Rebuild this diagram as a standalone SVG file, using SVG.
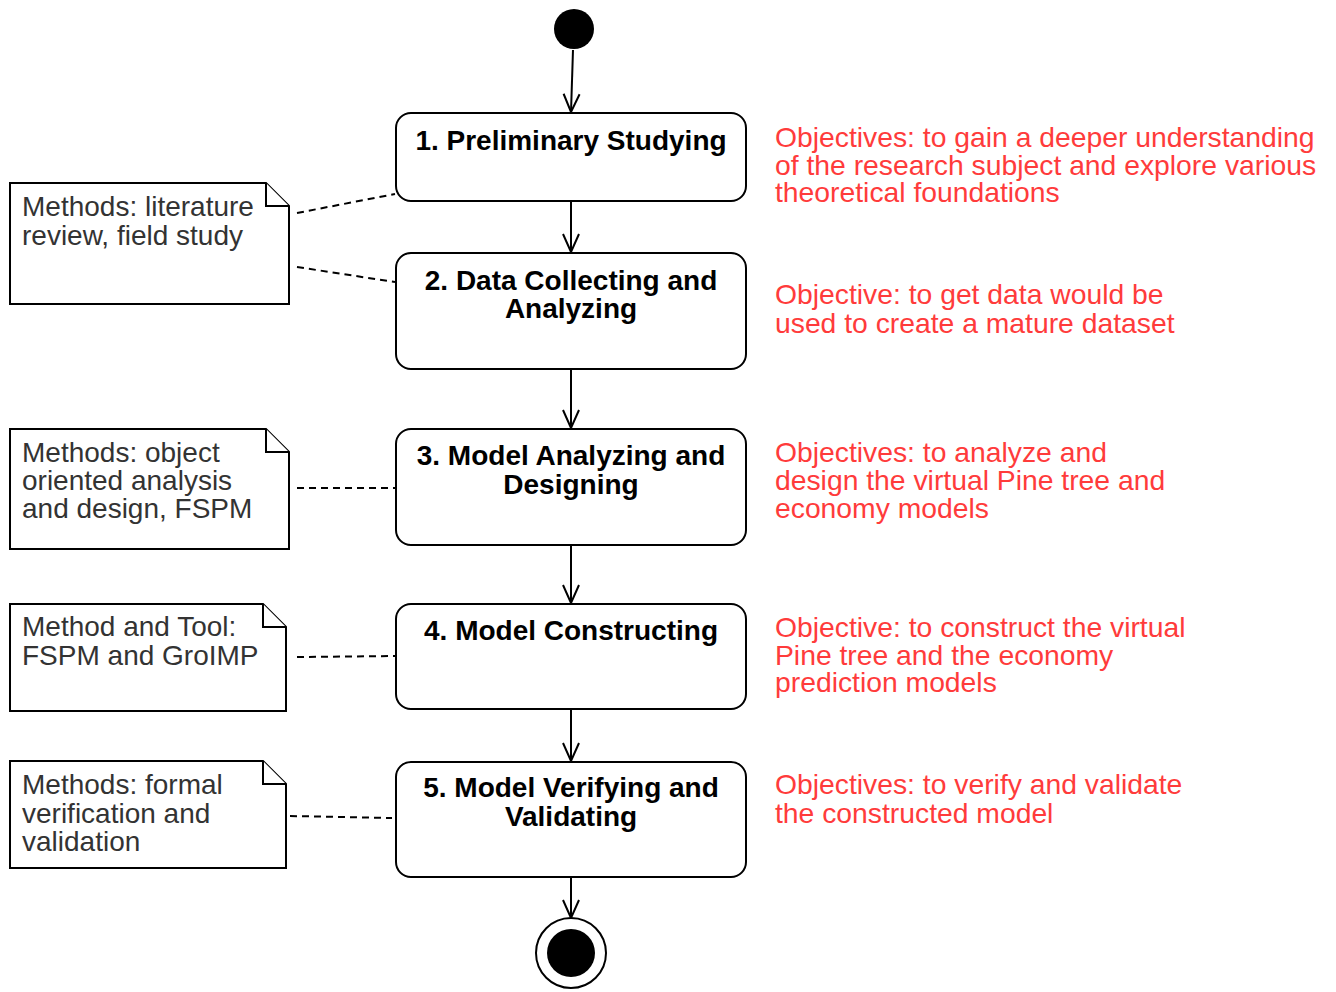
<svg xmlns="http://www.w3.org/2000/svg" width="1336" height="992" viewBox="0 0 1336 992">
  <defs>
    <!-- open V arrowhead, tip at the end of the line -->
    <marker id="open" viewBox="0 0 22 22" refX="20" refY="11" markerWidth="22" markerHeight="22" markerUnits="userSpaceOnUse" orient="auto">
      <path d="M2,3 L20,11 L2,19" fill="none" stroke="#000" stroke-width="2"/>
    </marker>
  </defs>
  <style>
    .act { fill: #fff; stroke: #000; stroke-width: 2; }
    .note { fill: #fff; stroke: #000; stroke-width: 2; }
    .title { font-family: "Liberation Sans", Arial, sans-serif; font-size: 28px; font-weight: bold; fill: #000; text-anchor: middle; }
    .ntext { font-family: "Liberation Sans", Arial, sans-serif; font-size: 28px; fill: #333; }
    .obj { font-family: "Liberation Sans", Arial, sans-serif; font-size: 28.3px; fill: #ff3b3b; }
    .flow { stroke: #000; stroke-width: 2; fill: none; marker-end: url(#open); }
    .link { stroke: #000; stroke-width: 2; fill: none; stroke-dasharray: 7 5; }
  </style>
  <rect width="1336" height="992" fill="#fff"/>

  <!-- control flow and note links -->
  <g id="connectors">
    <path class="flow" d="M573,50 L571,112"/>
    <path class="flow" d="M571,202 L571,252"/>
    <path class="flow" d="M571,370 L571,428"/>
    <path class="flow" d="M571,546 L571,603"/>
    <path class="flow" d="M571,710 L571,761"/>
    <path class="flow" d="M571,878 L571,918"/>
    <path class="link" d="M297,213 L395,194"/>
    <path class="link" d="M297,267 L395,282"/>
    <path class="link" d="M297,488 L395,488"/>
    <path class="link" d="M297,657 L395,656"/>
    <path class="link" d="M290,816 L392,818"/>
  </g>

  <g id="start">
    <circle cx="574" cy="29" r="20" fill="#000"/>
  </g>

  <g id="step1">
    <rect class="act" x="396" y="113" width="350" height="88" rx="15"/>
    <text class="title" x="571" y="150">1. Preliminary Studying</text>
  </g>
  <g id="step2">
    <rect class="act" x="396" y="253" width="350" height="116" rx="15"/>
    <text class="title" x="571" y="290">2. Data Collecting and</text>
    <text class="title" x="571" y="318">Analyzing</text>
  </g>
  <g id="step3">
    <rect class="act" x="396" y="429" width="350" height="116" rx="15"/>
    <text class="title" x="571" y="465">3. Model Analyzing and</text>
    <text class="title" x="571" y="494">Designing</text>
  </g>
  <g id="step4">
    <rect class="act" x="396" y="604" width="350" height="105" rx="15"/>
    <text class="title" x="571" y="640">4. Model Constructing</text>
  </g>
  <g id="step5">
    <rect class="act" x="396" y="762" width="350" height="115" rx="15"/>
    <text class="title" x="571" y="797">5. Model Verifying and</text>
    <text class="title" x="571" y="826">Validating</text>
  </g>

  <g id="end">
    <circle cx="571" cy="953" r="35" fill="#fff" stroke="#000" stroke-width="2"/>
    <circle cx="571" cy="953" r="24" fill="#000"/>
  </g>

  <g id="note1">
    <path class="note" d="M10,183 L266,183 L289,206 L289,304 L10,304 Z"/>
    <path class="note" d="M266,183 L266,206 L289,206"/>
    <text class="ntext" x="22" y="216">Methods: literature</text>
    <text class="ntext" x="22" y="245">review, field study</text>
  </g>
  <g id="note2">
    <path class="note" d="M10,429 L266,429 L289,452 L289,549 L10,549 Z"/>
    <path class="note" d="M266,429 L266,452 L289,452"/>
    <text class="ntext" x="22" y="462">Methods: object</text>
    <text class="ntext" x="22" y="490">oriented analysis</text>
    <text class="ntext" x="22" y="518">and design, FSPM</text>
  </g>
  <g id="note3">
    <path class="note" d="M10,604 L263,604 L286,627 L286,711 L10,711 Z"/>
    <path class="note" d="M263,604 L263,627 L286,627"/>
    <text class="ntext" x="22" y="636">Method and Tool:</text>
    <text class="ntext" x="22" y="665">FSPM and GroIMP</text>
  </g>
  <g id="note4">
    <path class="note" d="M10,761 L263,761 L286,784 L286,868 L10,868 Z"/>
    <path class="note" d="M263,761 L263,784 L286,784"/>
    <text class="ntext" x="22" y="794">Methods: formal</text>
    <text class="ntext" x="22" y="823">verification and</text>
    <text class="ntext" x="22" y="851">validation</text>
  </g>

  <g id="objective1">
    <text class="obj" x="775" y="147">Objectives: to gain a deeper understanding</text>
    <text class="obj" x="775" y="175">of the research subject and explore various</text>
    <text class="obj" x="775" y="202">theoretical foundations</text>
  </g>
  <g id="objective2">
    <text class="obj" x="775" y="304">Objective: to get data would be</text>
    <text class="obj" x="775" y="333">used to create a mature dataset</text>
  </g>
  <g id="objective3">
    <text class="obj" x="775" y="462">Objectives: to analyze and</text>
    <text class="obj" x="775" y="490">design the virtual Pine tree and</text>
    <text class="obj" x="775" y="518">economy models</text>
  </g>
  <g id="objective4">
    <text class="obj" x="775" y="637">Objective: to construct the virtual</text>
    <text class="obj" x="775" y="665">Pine tree and the economy</text>
    <text class="obj" x="775" y="692">prediction models</text>
  </g>
  <g id="objective5">
    <text class="obj" x="775" y="794">Objectives: to verify and validate</text>
    <text class="obj" x="775" y="823">the constructed model</text>
  </g>
</svg>
